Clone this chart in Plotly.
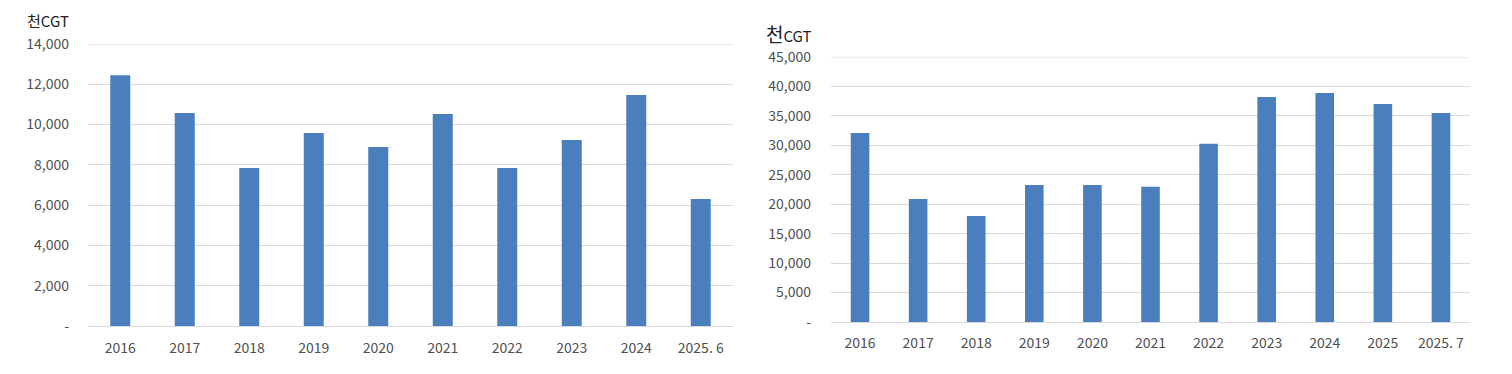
import plotly.graph_objects as go

# Left chart data
left_categories = ["2016", "2017", "2018", "2019", "2020", "2021", "2022", "2023", "2024", "2025. 6"]
left_values = [12450, 10580, 7840, 9580, 8890, 10530, 7850, 9240, 11470, 6310]
left_tickvals = [0, 2000, 4000, 6000, 8000, 10000, 12000, 14000]
left_ticktext = ["-", "2,000", "4,000", "6,000", "8,000", "10,000", "12,000", "14,000"]

# Right chart data
right_categories = ["2016", "2017", "2018", "2019", "2020", "2021", "2022", "2023", "2024", "2025", "2025. 7"]
right_values = [32100, 20900, 18000, 23250, 23250, 22950, 30250, 38200, 38900, 37000, 35500]
right_tickvals = [0, 5000, 10000, 15000, 20000, 25000, 30000, 35000, 40000, 45000]
right_ticktext = ["-", "5,000", "10,000", "15,000", "20,000", "25,000", "30,000", "35,000", "40,000", "45,000"]

unit_label = "천CGT"

# page body has an 8px default margin; size the figure to fit inside the window
OFF = 8
W, H = 1512 - 2 * OFF, 374 - 2 * OFF
BAR = "#4a7ebd"
GRID = "#d9d9d9"
TXT = "#505050"
FONT = "Noto Sans CJK KR, Noto Sans, sans-serif"

fig = go.Figure()
fig.add_trace(go.Bar(x=left_categories, y=left_values, marker_color=BAR,
                     marker_line_width=0, width=0.31, xaxis="x", yaxis="y",
                     hoverinfo="x+y", showlegend=False))
fig.add_trace(go.Bar(x=right_categories, y=right_values, marker_color=BAR,
                     marker_line_width=0, width=0.32, xaxis="x2", yaxis="y2",
                     hoverinfo="x+y", showlegend=False))

def px_x(v):
    return (v - OFF) / W

def px_y(v):
    return 1 - (v - OFF) / H

tickfont = dict(family=FONT, size=14, color=TXT)

common = dict(automargin=False, fixedrange=True, zeroline=False)

fig.update_layout(
    template="none",
    width=W, height=H,
    margin=dict(l=0, r=0, t=0, b=0, pad=0),
    paper_bgcolor="white", plot_bgcolor="white",
    font=dict(family=FONT, color=TXT),
    showlegend=False,
    xaxis=dict(domain=[px_x(88), px_x(733)], anchor="y", type="category",
               showgrid=False, showline=True, linecolor=GRID, linewidth=1,
               ticks="", tickfont=tickfont, ticklabelstandoff=9, **common),
    yaxis=dict(domain=[px_y(326), px_y(44)], anchor="x", range=[0, 14000],
               tickvals=left_tickvals, ticktext=left_ticktext,
               showgrid=True, gridcolor=GRID, gridwidth=1,
               showline=False, ticks="", tickfont=tickfont, ticklabelstandoff=18,
               **common),
    xaxis2=dict(domain=[px_x(831), px_x(1470)], anchor="y2", type="category",
                showgrid=False, showline=True, linecolor=GRID, linewidth=1,
                ticks="", tickfont=tickfont, ticklabelstandoff=8, **common),
    yaxis2=dict(domain=[px_y(322), px_y(57)], anchor="x2", range=[0, 45000],
                tickvals=right_tickvals, ticktext=right_ticktext,
                showgrid=True, gridcolor=GRID, gridwidth=1,
                showline=False, ticks="", tickfont=tickfont, ticklabelstandoff=19,
                **common),
    annotations=[
        dict(text=unit_label, xref="paper", yref="paper", x=px_x(25), y=px_y(21),
             xanchor="left", yanchor="middle", showarrow=False,
             font=dict(family=FONT, size=15, color="#222222")),
        dict(text="<span style='font-size:19px'>천</span>CGT", xref="paper", yref="paper",
             x=px_x(764), y=px_y(34), xanchor="left", yanchor="middle", showarrow=False,
             font=dict(family=FONT, size=15, color="#222222")),
    ],
)

# gridline at the top edge of each plot (Plotly omits gridlines on the plot edge)
fig.add_shape(type="line", xref="x domain", yref="y", x0=0, x1=1,
              y0=left_tickvals[-1], y1=left_tickvals[-1], line=dict(color=GRID, width=1))
fig.add_shape(type="line", xref="x2 domain", yref="y2", x0=0, x1=1,
              y0=right_tickvals[-1], y1=right_tickvals[-1], line=dict(color=GRID, width=1))

fig.write_html("out.html")
